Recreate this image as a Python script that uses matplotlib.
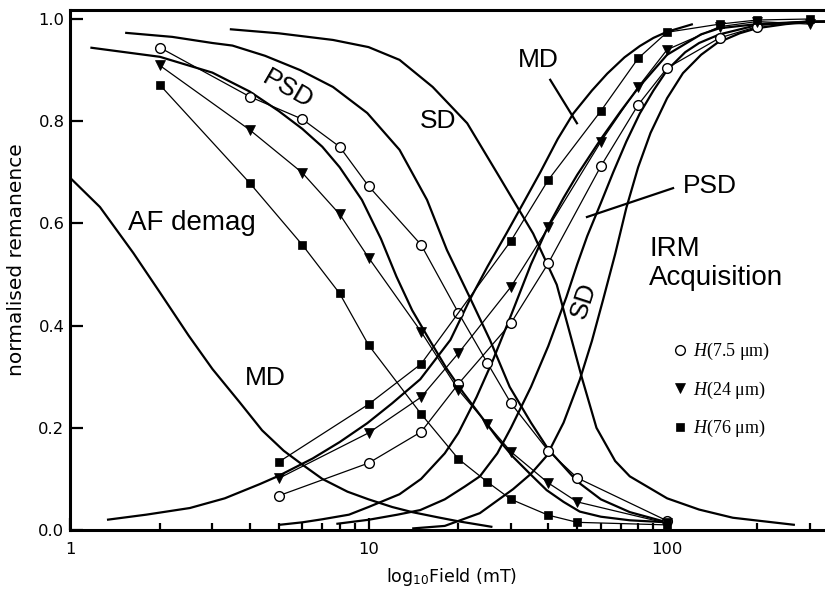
import numpy as np
import matplotlib
matplotlib.use('Agg')
import matplotlib.pyplot as plt
from matplotlib.lines import Line2D

plt.rcParams['mathtext.fontset'] = 'custom'
plt.rcParams['mathtext.rm'] = 'DejaVu Sans'
plt.rcParams['mathtext.it'] = 'Liberation Serif:italic'

#--- measured series (markers), field in mT
circ_af_x = [2, 4, 6, 8, 10, 15, 20, 25, 30, 40, 50, 100]
circ_af_y = [0.944, 0.848, 0.804, 0.75, 0.673, 0.558, 0.425, 0.327, 0.248, 0.155, 0.102, 0.018]
circ_irm_x = [5, 10, 15, 20, 30, 40, 60, 80, 100, 150, 200]
circ_irm_y = [0.067, 0.131, 0.192, 0.286, 0.405, 0.522, 0.712, 0.832, 0.904, 0.963, 0.985]

tri_af_x = [2, 4, 6, 8, 10, 15, 20, 25, 30, 40, 50, 100]
tri_af_y = [0.909, 0.783, 0.699, 0.618, 0.533, 0.388, 0.274, 0.207, 0.153, 0.092, 0.055, 0.013]
tri_irm_x = [5, 10, 15, 20, 30, 40, 60, 80, 100, 150, 200, 300]
tri_irm_y = [0.101, 0.19, 0.26, 0.346, 0.476, 0.592, 0.76, 0.867, 0.94, 0.985, 0.995, 0.99]

sq_af_x = [2, 4, 6, 8, 10, 15, 20, 25, 30, 40, 50, 100]
sq_af_y = [0.871, 0.679, 0.558, 0.463, 0.362, 0.227, 0.139, 0.094, 0.06, 0.029, 0.015, 0.01]
sq_irm_x = [5, 10, 15, 30, 40, 60, 80, 100, 150, 200, 300]
sq_irm_y = [0.133, 0.246, 0.325, 0.566, 0.685, 0.82, 0.923, 0.974, 0.99, 0.998, 1.0]

#--- model curves
af_md_x = [1.01, 1.26, 1.63, 2.0, 2.5, 3.0, 3.7, 4.4, 5.2, 6.0, 7.0, 8.5, 10, 12, 14, 17, 20, 26]
af_md_y = [0.687, 0.632, 0.542, 0.465, 0.38, 0.315, 0.25, 0.195, 0.155, 0.128, 0.1, 0.075, 0.06, 0.045, 0.035, 0.025, 0.017, 0.006]

af_psd1_x = [1.17, 2, 3, 4, 5, 6, 7, 8, 9.5, 11, 12.4, 14, 16, 18.3, 20.8, 24, 27, 30.5, 35, 39.5, 45, 51, 60, 75, 100]
af_psd1_y = [0.944, 0.926, 0.895, 0.858, 0.82, 0.785, 0.75, 0.71, 0.646, 0.57, 0.496, 0.43, 0.372, 0.315, 0.268, 0.22, 0.18, 0.143, 0.108, 0.078, 0.055, 0.036, 0.026, 0.019, 0.015]

af_psd2_x = [1.53, 2.2, 3.0, 3.5, 4.5, 5.9, 7.6, 9.9, 12.7, 15.7, 18.3, 21.8, 25.5, 29.7, 35, 40, 50, 60, 75, 100]
af_psd2_y = [0.973, 0.965, 0.953, 0.948, 0.928, 0.9, 0.867, 0.816, 0.744, 0.646, 0.548, 0.456, 0.372, 0.28, 0.21, 0.158, 0.095, 0.06, 0.035, 0.015]

af_sd_x = [3.43, 5, 7.6, 10, 12.7, 16.4, 21.4, 27.5, 35.6, 42.7, 47, 52, 58, 67, 75, 100, 128, 166, 268]
af_sd_y = [0.98, 0.972, 0.959, 0.945, 0.92, 0.867, 0.796, 0.69, 0.58, 0.48, 0.39, 0.295, 0.2, 0.135, 0.105, 0.062, 0.04, 0.024, 0.01]

irm_md_x = [1.33, 1.8, 2.52, 3.3, 4.33, 5, 6.5, 8, 9.9, 12, 14.9, 18.8, 21.8, 25, 29, 33, 37.6, 43, 48.5, 56, 63, 72, 81, 90, 100, 122]
irm_md_y = [0.02, 0.03, 0.043, 0.062, 0.09, 0.106, 0.14, 0.172, 0.209, 0.248, 0.295, 0.372, 0.45, 0.515, 0.581, 0.64, 0.7, 0.765, 0.815, 0.86, 0.893, 0.925, 0.947, 0.963, 0.975, 0.99]

irm_psd1_x = [5, 6, 7, 8.6, 10, 12.7, 15, 18, 20, 23, 26, 30, 35, 40, 45, 50, 60, 70, 80, 100, 130, 150, 200, 300, 340]
irm_psd1_y = [0.01, 0.015, 0.021, 0.03, 0.045, 0.07, 0.1, 0.15, 0.19, 0.26, 0.33, 0.42, 0.52, 0.595, 0.65, 0.695, 0.765, 0.82, 0.865, 0.93, 0.97, 0.982, 0.99, 0.995, 0.995]

irm_psd2_x = [7.8, 10, 12.5, 14.9, 18, 21, 23.6, 27, 30, 35, 40, 46, 50, 54, 60, 66, 73, 81, 90, 100, 115, 128, 150, 200, 300, 340]
irm_psd2_y = [0.012, 0.02, 0.03, 0.039, 0.06, 0.085, 0.105, 0.15, 0.2, 0.28, 0.36, 0.456, 0.52, 0.575, 0.64, 0.7, 0.76, 0.815, 0.86, 0.9, 0.935, 0.953, 0.97, 0.988, 0.995, 0.995]

irm_sd_x = [14, 18, 23.6, 30.5, 35, 39.5, 45, 51, 56, 61, 67, 73, 80, 88, 100, 113, 130, 147, 175, 200, 250, 300, 340]
irm_sd_y = [0.003, 0.008, 0.033, 0.08, 0.11, 0.145, 0.21, 0.294, 0.37, 0.45, 0.54, 0.63, 0.71, 0.777, 0.845, 0.894, 0.93, 0.953, 0.972, 0.982, 0.99, 0.994, 0.995]

legend_labels = [r'$H$(7.5 μm)', r'$H$(24 μm)', r'$H$(76 μm)']

fig = plt.figure(figsize=(8.25, 5.93), dpi=100)
ax = fig.add_axes([70/825, 63/593, 755/825, 520/593])

#--- smooth curves
for cx, cy in [(af_md_x, af_md_y), (af_psd1_x, af_psd1_y), (af_psd2_x, af_psd2_y), (af_sd_x, af_sd_y),
               (irm_md_x, irm_md_y), (irm_psd1_x, irm_psd1_y), (irm_psd2_x, irm_psd2_y), (irm_sd_x, irm_sd_y)]:
    ax.plot(cx, cy, color='black', lw=1.6, solid_capstyle='butt', zorder=2)

#--- data with markers
mk_circ = dict(marker='o', ms=7, mfc='white', mec='black', mew=1.0)
mk_tri = dict(marker='v', ms=7, mfc='black', mec='black', mew=0.5)
mk_sq = dict(marker='s', ms=6, mfc='black', mec='black', mew=0.5)
for xs, ys, mk in [(circ_af_x, circ_af_y, mk_circ), (circ_irm_x, circ_irm_y, mk_circ),
                   (tri_af_x, tri_af_y, mk_tri), (tri_irm_x, tri_irm_y, mk_tri),
                   (sq_af_x, sq_af_y, mk_sq), (sq_irm_x, sq_irm_y, mk_sq)]:
    ax.plot(xs, ys, color='black', lw=0.9, zorder=3, **mk)

ax.set_xscale('log')
ax.set_xlim(1, 338)
ax.set_ylim(0, 1.0176)
ax.set_yticks([0, 0.2, 0.4, 0.6, 0.8, 1.0])
ax.set_yticklabels(['0.0', '0.2', '0.4', '0.6', '0.8', '1.0'])
ax.set_xticks([1, 10, 100])
ax.set_xticklabels(['1', '10', '100'])

ax.spines['right'].set_visible(False)
for s in ['left', 'top', 'bottom']:
    ax.spines[s].set_linewidth(2.2)
ax.tick_params(which='major', direction='in', length=9, width=1.6, labelsize=11.8, pad=4)
ax.tick_params(axis='x', which='major', pad=9)
ax.tick_params(which='minor', direction='in', length=5, width=1.6)
ax.tick_params(axis='y', which='minor', left=False)

ax.set_xlabel(r'log$_{10}$Field (mT)', fontsize=12.5)
ax.xaxis.set_label_coords(0.505, -0.07)
ax.set_ylabel('normalised remanence', fontsize=14.5)
ax.yaxis.set_label_coords(-0.058, 0.52)

#--- labels on curves
lab = dict(family='Liberation Sans', color='black')
ax.text(1.56, 0.587, 'AF demag', fontsize=20, **lab)
ax.text(3.86, 0.284, 'MD', fontsize=19, **lab)
ax.text(5.38, 0.863, 'PSD', fontsize=19, rotation=-30, ha='center', va='center', **lab)
ax.text(14.9, 0.787, 'SD', fontsize=19, **lab)
ax.text(31.7, 0.906, 'MD', fontsize=19, **lab)
ax.text(113, 0.673, 'PSD', fontsize=19, va='center', **lab)
ax.text(87, 0.522, 'IRM\nAcquisition', fontsize=20, va='center', linespacing=1.15, **lab)
ax.text(52.7, 0.45, 'SD', fontsize=19, rotation=72, ha='center', va='center', **lab)

# leader lines
ax.plot([40.6, 49.9], [0.881, 0.796], color='black', lw=1.6)
ax.plot([104.7, 53.9], [0.669, 0.6125], color='black', lw=1.6)

#--- legend
handles = [Line2D([], [], ls='none', **mk_circ), Line2D([], [], ls='none', **mk_tri), Line2D([], [], ls='none', **mk_sq)]
ax.legend(handles, legend_labels, loc='center left', bbox_to_anchor=(0.799, 0.269), frameon=False,
          prop={'family': 'Liberation Serif', 'size': 13}, handlelength=0.8, handletextpad=0.3,
          labelspacing=0.95, borderpad=0, borderaxespad=0)

fig.savefig('out.png', dpi=100)
